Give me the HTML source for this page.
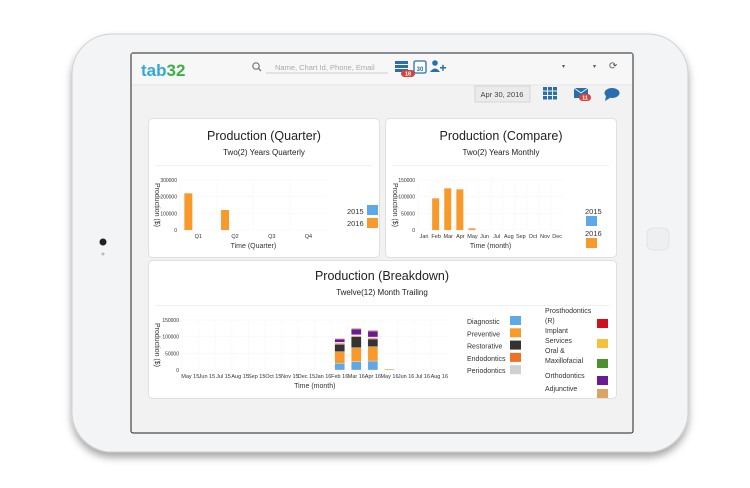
<!DOCTYPE html>
<html><head><meta charset="utf-8">
<style>
html,body{margin:0;padding:0;background:#fff;width:750px;height:488px;overflow:hidden}
svg{display:block;font-family:"Liberation Sans",Arial,sans-serif}
</style></head>
<body>
<svg id="s" width="750" height="488" viewBox="0 0 750 488" xmlns="http://www.w3.org/2000/svg">
<defs>
<filter id="sh" x="-10%" y="-10%" width="120%" height="130%"><feDropShadow dx="0" dy="5" stdDeviation="4" flood-color="#000" flood-opacity="0.35"/></filter>
</defs>
<rect x="72" y="34" width="616" height="418" rx="40" fill="#f3f4f6" stroke="#cfd1d4" stroke-width="1" filter="url(#sh)"/>
<circle cx="103" cy="242" r="3.5" fill="#222"/>
<circle cx="103" cy="254" r="1.5" fill="#bbb"/>
<rect x="647" y="228" width="22" height="22" rx="6" fill="#eeeff1" stroke="#e2e3e5"/>
<rect x="131" y="53" width="502" height="380" rx="2" fill="#f2f2f2" stroke="#222" stroke-width="1"/>
<rect x="131.5" y="53.5" width="501" height="32" fill="#f7f7f7"/>
<line x1="132" y1="85" x2="632" y2="85" stroke="#e5e5e5"/>
<text x="141" y="76" font-size="17" font-weight="bold" fill="#35a7dc">tab<tspan fill="#3db04a">32</tspan></text>
<circle cx="256" cy="66" r="3.2" fill="none" stroke="#777" stroke-width="1.2"/><line x1="258.5" y1="68.5" x2="261" y2="71" stroke="#777" stroke-width="1.3"/>
<g><line x1="266" y1="73" x2="388" y2="73" stroke="#ccc"/><text x="275" y="70" font-size="7.5" fill="#aaa">Name, Chart Id, Phone, Email</text></g>
<g fill="#2a6fad"><rect x="395" y="61" width="13" height="3"/><rect x="395" y="65" width="13" height="3"/><rect x="395" y="69" width="13" height="3"/></g>
<g><rect x="401" y="70" width="14" height="7" rx="3.5" fill="#d9423d"/><text x="408" y="75.5" font-size="5.5" fill="#fff" text-anchor="middle" font-weight="bold">18</text></g>
<g><rect x="414" y="61" width="12" height="12" rx="1.5" fill="#fff" stroke="#2a6fad" stroke-width="1.3"/><text x="420" y="71" font-size="6" fill="#2a6fad" text-anchor="middle" font-weight="bold">30</text></g>
<g fill="#2a6fad"><circle cx="435" cy="63" r="2.8"/><path d="M430 72 q5 -7 10 0z"/><rect x="440" y="67" width="6" height="1.5"/><rect x="442.2" y="64.8" width="1.5" height="6"/></g>
<text x="562" y="68" font-size="6" fill="#555">▾</text><text x="593" y="68" font-size="6" fill="#555">▾</text>
<text x="609" y="69" font-size="10" fill="#555">⟳</text>
<rect x="475" y="86" width="55" height="16" fill="#ebebeb" stroke="#d5d5d5"/>
<text x="502" y="97" font-size="7.5" fill="#444" text-anchor="middle">Apr 30, 2016</text>
<g fill="#2a6fad" id="grid"></g>
<g><rect x="574" y="88" width="14" height="10" fill="#2a6fad"/><path d="M574 88 l7 5 l7 -5" fill="none" stroke="#fff" stroke-width="0.8"/><rect x="579" y="94" width="12" height="7" rx="3.5" fill="#d9423d"/><text x="585" y="99.5" font-size="5.5" fill="#fff" text-anchor="middle" font-weight="bold">11</text></g>
<g fill="#2a6fad"><ellipse cx="612" cy="93" rx="7.5" ry="5"/><path d="M606 96 l-1 5 l5 -3z"/></g>

<g><rect x="148.5" y="118.5" width="231" height="139" rx="4" fill="#fff" stroke="#e0e0e0"/>
<text x="264" y="140" font-size="12.5" text-anchor="middle" fill="#222">Production (Quarter)</text>
<text x="264" y="155" font-size="8" text-anchor="middle" fill="#222">Two(2) Years Quarterly</text>
<line x1="155" y1="165.5" x2="372" y2="165.5" stroke="#f0f0f0"/></g>
<g><rect x="385.5" y="118.5" width="231" height="139" rx="4" fill="#fff" stroke="#e0e0e0"/>
<text x="501" y="140" font-size="12.5" text-anchor="middle" fill="#222">Production (Compare)</text>
<text x="501" y="155" font-size="8" text-anchor="middle" fill="#222">Two(2) Years Monthly</text>
<line x1="392" y1="165.5" x2="609" y2="165.5" stroke="#f0f0f0"/></g>
<g><rect x="148.5" y="260.5" width="468" height="138" rx="4" fill="#fff" stroke="#e0e0e0"/>
<text x="382" y="280" font-size="12.5" text-anchor="middle" fill="#222">Production (Breakdown)</text>
<text x="382" y="295" font-size="8" text-anchor="middle" fill="#222">Twelve(12) Month Trailing</text>
<line x1="155" y1="305.5" x2="609" y2="305.5" stroke="#f0f0f0"/></g>
<g id="charts"></g>
</svg>
<script>
// ---- data ----
const qCats=["Q1","Q2","Q3","Q4"];
const q2015=[0,0,0,0];
const q2016=[220000,120000,0,0];
const qTicks=[0,100000,200000,300000];
const mCats=["Jan","Feb","Mar","Apr","May","Jun","Jul","Aug","Sep","Oct","Nov","Dec"];
const m2015=[0,0,0,0,0,0,0,0,0,0,0,0];
const m2016=[0,95000,125000,122000,5000,0,0,0,0,0,0,0];
const mTicks=[0,50000,100000,150000];
const bCats=["May 15","Jun 15","Jul 15","Aug 15","Sep 15","Oct 15","Nov 15","Dec 15","Jan 16","Feb 16","Mar 16","Apr 16","May 16","Jun 16","Jul 16","Aug 16"];
const bSeries=["Diagnostic","Preventive","Restorative","Endodontics","Periodontics","Prosthodontics (R)","Implant Services","Oral & Maxillofacial","Orthodontics","Adjunctive"];
const bColors=["#5fa8e8","#f89a2b","#333333","#f07124","#d0d0d0","#d0101a","#f4c23a","#4e8f2e","#6a1a93","#d9a560"];
const bDiag=[0,0,0,0,0,0,0,0,0,20000,25000,27000,0,0,0,0];
const bPrev=[0,0,0,0,0,0,0,0,0,35000,42000,43000,0,0,0,0];
const bRest=[0,0,0,0,0,0,0,0,0,22000,33000,23000,0,0,0,0];
const bEndo=[0,0,0,0,0,0,0,0,0,3000,3000,3000,0,0,0,0];
const bPerio=[0,0,0,0,0,0,0,0,0,2000,2000,2000,0,0,0,0];
const bPros=[0,0,0,0,0,0,0,0,0,0,0,0,0,0,0,0];
const bImpl=[0,0,0,0,0,0,0,0,0,1000,1000,1000,0,0,0,0];
const bOral=[0,0,0,0,0,0,0,0,0,0,0,0,0,0,0,0];
const bOrtho=[0,0,0,0,0,0,0,0,0,10000,17000,18000,0,0,0,0];
const bAdj=[0,0,0,0,0,0,0,0,0,2000,3000,3000,3000,0,0,0];
const bTicks=[0,50000,100000,150000];

const NS="http://www.w3.org/2000/svg";
const root=document.getElementById('charts');
function el(tag,a,parent){const e=document.createElementNS(NS,tag);for(const k in a)e.setAttribute(k,a[k]);(parent||root).appendChild(e);return e;}
function txt(x,y,s,size,anchor,fill,parent){const t=el('text',{x:x,y:y,'font-size':size,'text-anchor':anchor||'start',fill:fill||'#333'},parent);t.textContent=s;return t;}

const grid=document.getElementById('grid');
for(let r=0;r<3;r++)for(let c=0;c<3;c++){el('rect',{x:543+c*5,y:87+r*4.5,width:4,height:3.5},grid);}

function axisChart(o){
  const y=v=>o.y0-(v/o.max)*(o.y0-o.y1);
  const x=i=>o.x0+(i+0.5)*o.step;
  const g=el('g',{});
  
  
  o.ticks.forEach(t=>{
    el('line',{x1:o.x0,x2:o.x0+o.step*o.cats.length,y1:y(t),y2:y(t),stroke:'#f4f4f4','stroke-dasharray':'1,1'},g);
    txt(o.x0-3,y(t)+2,String(t),5,'end','#333',g);
  });
  o.cats.forEach((c,i)=>{
    el('line',{x1:o.x0+i*o.step,x2:o.x0+i*o.step,y1:o.y1,y2:o.y0,stroke:'#f5f5f5','stroke-dasharray':'1,1'},g);
    txt(x(i)+(o.lblOff||0),o.y0+8,c,5.5,'middle','#333',g);
  });
  const yt=txt(0,0,'Production ($)',7,'middle','#333',g);
  yt.setAttribute('transform',`translate(${o.ytx},${(o.y0+o.y1)/2}) rotate(90)`);
  txt(o.x0+o.step*o.cats.length/2,o.y0+18,o.xtitle,7,'middle','#333',g);
  return {g,x,y};
}

{const c=axisChart({name:'quarter-chart',cats:qCats,ticks:qTicks,max:300000,x0:180,step:36.7,y0:230,y1:180,ytx:155,xtitle:'Time (Quarter)',lblOff:0});
 qCats.forEach((k,i)=>{
  const b=el('rect',{x:c.x(i)-14,y:c.y(q2016[i]),width:8,height:230-c.y(q2016[i]),fill:'#f89a2b'},c.g);
  
  
  const b2=el('rect',{x:c.x(i)-6,y:c.y(q2015[i]),width:8,height:230-c.y(q2015[i]),fill:'#5fa8e8'},c.g);
  
  
 });
 const l=el('g',{},c.g);
 txt(347,214,'2015',7.5,'start','#333',l);el('rect',{x:367,y:205,width:11,height:10,fill:'#5fa8e8'},l);
 txt(347,226,'2016',7.5,'start','#333',l);el('rect',{x:367,y:218,width:11,height:10,fill:'#f89a2b'},l);
}
{const c=axisChart({name:'compare-chart',cats:mCats,ticks:mTicks,max:150000,x0:418,step:12.1,y0:230,y1:180,ytx:393,xtitle:'Time (month)',lblOff:0});
 mCats.forEach((k,i)=>{
  const b=el('rect',{x:c.x(i)-4,y:c.y(m2016[i]),width:7,height:230-c.y(m2016[i]),fill:'#f89a2b'},c.g);
  
  
  const b2=el('rect',{x:c.x(i)+3,y:c.y(m2015[i]),width:0.01,height:230-c.y(m2015[i]),fill:'#5fa8e8'},c.g);
  
  
 });
 const l=el('g',{},c.g);
 txt(585,214,'2015',7.5,'start','#333',l);el('rect',{x:586,y:216,width:11,height:10,fill:'#5fa8e8'},l);
 txt(585,236,'2016',7.5,'start','#333',l);el('rect',{x:586,y:238,width:11,height:10,fill:'#f89a2b'},l);
}
{const c=axisChart({name:'breakdown-chart',cats:bCats,ticks:bTicks,max:150000,x0:182,step:16.6,y0:370,y1:320,ytx:155,xtitle:'Time (month)',lblOff:0});
 const series=[bDiag,bPrev,bRest,bEndo,bPerio,bPros,bImpl,bOral,bOrtho,bAdj];
 bCats.forEach((k,i)=>{
  let acc=0;
  series.forEach((s,j)=>{
   if(!s[i])return;
   const top=c.y(acc+s[i]),bot=c.y(acc);acc+=s[i];
   const r=el('rect',{x:c.x(i)-5,y:top,width:10,height:bot-top,fill:bColors[j],stroke:'#fff','stroke-width':0.3},c.g);
   
   
  });
 });
 const l=el('g',{},c.g);
 const left=[0,1,2,3,4];
 left.forEach((j,n)=>{txt(467,324+n*12.3,bSeries[j],7,'start','#333',l);el('rect',{x:510,y:316+n*12.3,width:11,height:9,fill:bColors[j]},l);});
 const rt=[["Prosthodontics","(R)"],["Implant","Services"],["Oral &","Maxillofacial"],["Orthodontics"],["Adjunctive"]];
 const ry=[313,333,353,378,391];
 rt.forEach((lines,n)=>{lines.forEach((s,m)=>txt(545,ry[n]+m*10,s,7,'start','#333',l));
  el('rect',{x:597,y:[319,339,359,376,389][n],width:11,height:9,fill:bColors[5+n]},l);});
}
</script>
</body></html>
